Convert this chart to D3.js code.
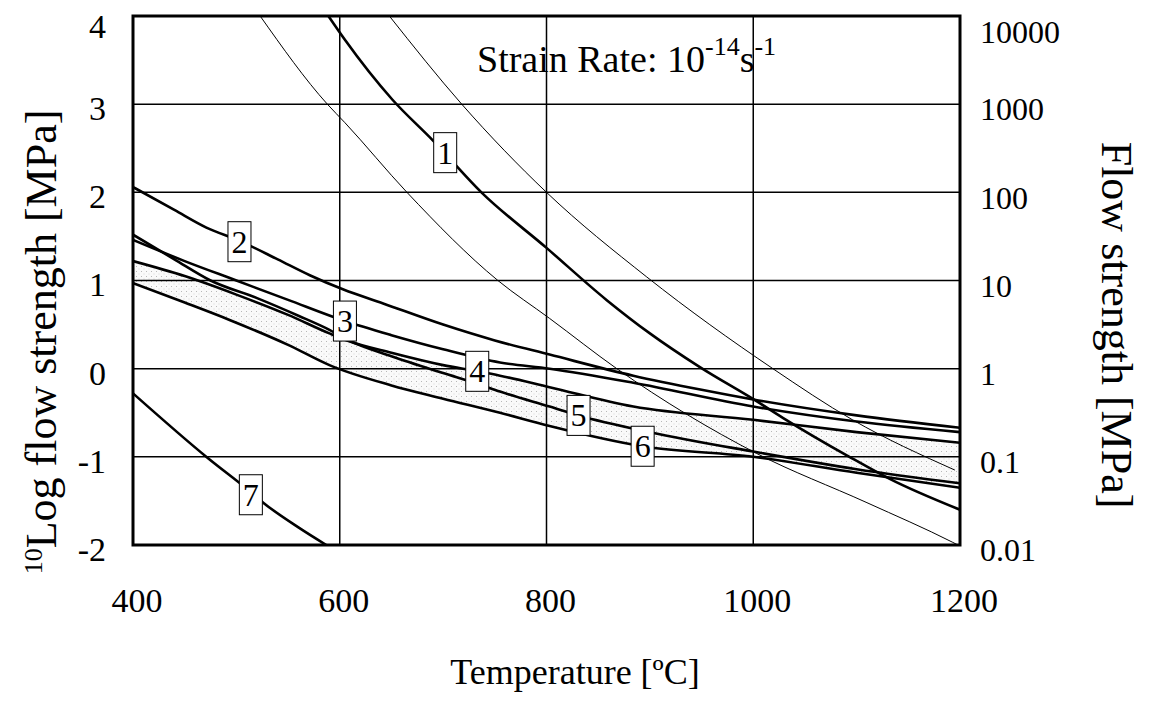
<!DOCTYPE html>
<html>
<head>
<meta charset="utf-8">
<script src="https://cdn.jsdelivr.net/npm/d3@7"></script>
<style>
  body { margin: 0; background: #fff; }
  svg { display: block; }
  text { font-family: 'Liberation Serif', 'Times New Roman', serif; fill: #000; }
</style>
</head>
<body>
<svg id="chart" width="1151" height="702"></svg>
<script>
// ---- data: [temperature °C, log10 flow strength MPa]
const TEMP_TICKS = [400, 600, 800, 1000, 1200];
const LOG_TICKS = [-2, -1, 0, 1, 2, 3, 4];
const FLOW_LABELS = ["0.01", "0.1", "1", "10", "100", "1000", "10000"];

const curve1 = [[589, 4], [605, 3.73], [651, 3.05], [690, 2.59], [737, 2.0], [800, 1.37],
  [858, 0.78], [900, 0.4], [948, 0.02], [1002, -0.36], [1029, -0.56], [1093, -1.0], [1132, -1.25], [1200, -1.6]];
const curve2 = [[400, 2.06], [440, 1.8], [471, 1.6], [503, 1.45], [540, 1.24], [571, 1.06], [603, 0.9],
  [642, 0.74], [700, 0.5], [750, 0.32], [803, 0.16], [884, -0.08], [950, -0.24], [1000, -0.35], [1100, -0.53], [1200, -0.67]];
const curve3 = [[400, 1.46], [450, 1.22], [500, 1.0], [550, 0.78], [605, 0.54], [650, 0.38], [700, 0.22],
  [755, 0.07], [803, 0.0], [884, -0.16], [1000, -0.43], [1100, -0.6], [1200, -0.72]];
const curve4 = [[400, 1.22], [450, 1.05], [500, 0.84], [550, 0.61], [590, 0.4], [607, 0.32], [650, 0.18],
  [700, 0.04], [733, -0.03], [755, -0.08], [803, -0.21], [884, -0.43], [1000, -0.58], [1100, -0.72], [1200, -0.84]];
const curve5 = [[400, 1.52], [440, 1.24], [475, 1.0], [520, 0.8], [560, 0.6], [590, 0.44], [607, 0.33],
  [650, 0.14], [700, -0.05], [733, -0.17], [755, -0.26], [803, -0.43], [831, -0.53], [900, -0.72], [1000, -0.94], [1100, -1.14], [1200, -1.3]];
const curve6 = [[400, 0.97], [450, 0.75], [494, 0.55], [550, 0.27], [590, 0.04], [650, -0.19], [700, -0.34],
  [755, -0.5], [803, -0.65], [893, -0.88], [1000, -1.0], [1100, -1.18], [1200, -1.35]];
const curve7 = [[400, -0.28], [472, -1.01], [514, -1.4], [526, -1.52], [560, -1.8], [587, -2.0]];
const thinA = [[523, 4], [588, 3], [605, 2.79], [665, 2], [753, 1], [803, 0.57], [868, 0], [1003, -0.96],
  [1110, -1.52], [1193, -1.97], [1198, -2]];
const thinB = [[648, 4], [718, 3], [800, 2], [897, 1.04], [1019, 0], [1096, -0.58], [1195, -1.15]];

// label boxes: [label, temperature, log strength]
const LABELS = [["1", 702, 2.45], ["2", 503, 1.44], ["3", 605, 0.54], ["4", 733, -0.03],
  ["5", 831, -0.53], ["6", 893, -0.88], ["7", 514, -1.43]];

const svg = d3.select("#chart");
const pLeft = 133, pRight = 960, pTop = 16, pBottom = 545;

const x = d3.scaleLinear().domain([400, 1200]).range([pLeft, pRight]);
const y = d3.scaleLinear().domain([-2, 4]).range([pBottom, pTop]);

const defs = svg.append("defs");
defs.append("clipPath").attr("id", "plot")
  .append("rect").attr("x", pLeft).attr("y", pTop)
  .attr("width", pRight - pLeft).attr("height", pBottom - pTop);

// faint stipple for the shaded band
const pat = defs.append("pattern").attr("id", "dots")
  .attr("width", 5).attr("height", 5).attr("patternUnits", "userSpaceOnUse");
pat.append("rect").attr("width", 5).attr("height", 5).attr("fill", "#fafafa");
pat.append("rect").attr("x", 1).attr("y", 1).attr("width", 1).attr("height", 1).attr("fill", "#b8b8b8");
pat.append("rect").attr("x", 3.5).attr("y", 3.5).attr("width", 1).attr("height", 1).attr("fill", "#d6d6d6");

const line = d3.line().x(d => x(d[0])).y(d => y(d[1])).curve(d3.curveMonotoneX);

// band between curve 4 and curve 6: area under 4 clipped to area above 6
defs.append("clipPath").attr("id", "above6")
  .append("path")
  .attr("d", d3.area().x(d => x(d[0])).y0(pTop).y1(d => y(d[1])).curve(d3.curveMonotoneX)(curve6));

svg.append("g").attr("clip-path", "url(#plot)")
  .append("path")
  .attr("clip-path", "url(#above6)")
  .attr("d", d3.area().x(d => x(d[0])).y0(pBottom).y1(d => y(d[1])).curve(d3.curveMonotoneX)(curve4))
  .attr("fill", "url(#dots)");

// grid
const grid = svg.append("g").attr("stroke", "#000").attr("stroke-width", 1.5);
grid.selectAll("line.v").data(TEMP_TICKS.slice(1, -1)).enter().append("line")
  .attr("x1", d => x(d)).attr("x2", d => x(d)).attr("y1", pTop).attr("y2", pBottom);
grid.selectAll("line.h").data(LOG_TICKS.slice(1, -1)).enter().append("line")
  .attr("y1", d => y(d)).attr("y2", d => y(d)).attr("x1", pLeft).attr("x2", pRight);

// curves
const plot = svg.append("g").attr("clip-path", "url(#plot)").attr("fill", "none").attr("stroke", "#000");
[thinA, thinB].forEach(c => plot.append("path").attr("d", line(c)).attr("stroke-width", 1));
[curve1, curve2, curve3, curve4, curve5, curve6, curve7].forEach(c =>
  plot.append("path").attr("d", line(c)).attr("stroke-width", 2.6).attr("stroke-linejoin", "round"));

// frame
svg.append("rect").attr("x", pLeft).attr("y", pTop)
  .attr("width", pRight - pLeft).attr("height", pBottom - pTop)
  .attr("fill", "none").attr("stroke", "#000").attr("stroke-width", 3);

// curve labels
const lab = svg.append("g").selectAll("g").data(LABELS).enter().append("g")
  .attr("transform", d => `translate(${x(d[1])},${y(d[2])})`);
lab.append("rect").attr("x", -11.5).attr("y", -20).attr("width", 23).attr("height", 40)
  .attr("fill", "#fff").attr("stroke", "#000").attr("stroke-width", 1);
lab.append("text").attr("text-anchor", "middle").attr("y", 11)
  .style("font-size", "32px").text(d => d[0]);

// tick labels
svg.append("g").selectAll("text").data(LOG_TICKS).enter().append("text")
  .attr("x", 106).attr("y", d => Math.max(y(d) + 4, 26)).attr("dy", "0.35em")
  .attr("text-anchor", "end").style("font-size", "34px").text(d => d);

svg.append("g").selectAll("text").data(FLOW_LABELS).enter().append("text")
  .attr("x", 980).attr("y", (d, i) => Math.max(y(LOG_TICKS[i]) + 5, 32)).attr("dy", "0.35em")
  .style("font-size", "32px").text(d => d);

svg.append("g").selectAll("text").data(TEMP_TICKS).enter().append("text")
  .attr("x", d => x(d) + 4).attr("y", 612).attr("text-anchor", "middle")
  .style("font-size", "34px").text(d => d);

// axis titles
svg.append("text").attr("x", 575).attr("y", 684).attr("text-anchor", "middle")
  .style("font-size", "36px").text("Temperature [ºC]");

const lt = svg.append("text").attr("transform", "translate(56,342) rotate(-90)")
  .attr("text-anchor", "middle").style("font-size", "44px");
lt.append("tspan").style("font-size", "26px").attr("dy", "-14").text("10");
lt.append("tspan").attr("dy", "14").text("Log flow strength [MPa]");

svg.append("text").attr("transform", "translate(1102,325) rotate(90)")
  .attr("text-anchor", "middle").style("font-size", "44px").text("Flow strength [MPa]");

// strain rate note
const st = svg.append("text").attr("x", 477).attr("y", 72).style("font-size", "38px");
st.append("tspan").text("Strain Rate: 10");
st.append("tspan").style("font-size", "26px").attr("dy", -17).text("-14");
st.append("tspan").attr("dy", 17).text("s");
st.append("tspan").style("font-size", "26px").attr("dy", -17).text("-1");
</script>
</body>
</html>
